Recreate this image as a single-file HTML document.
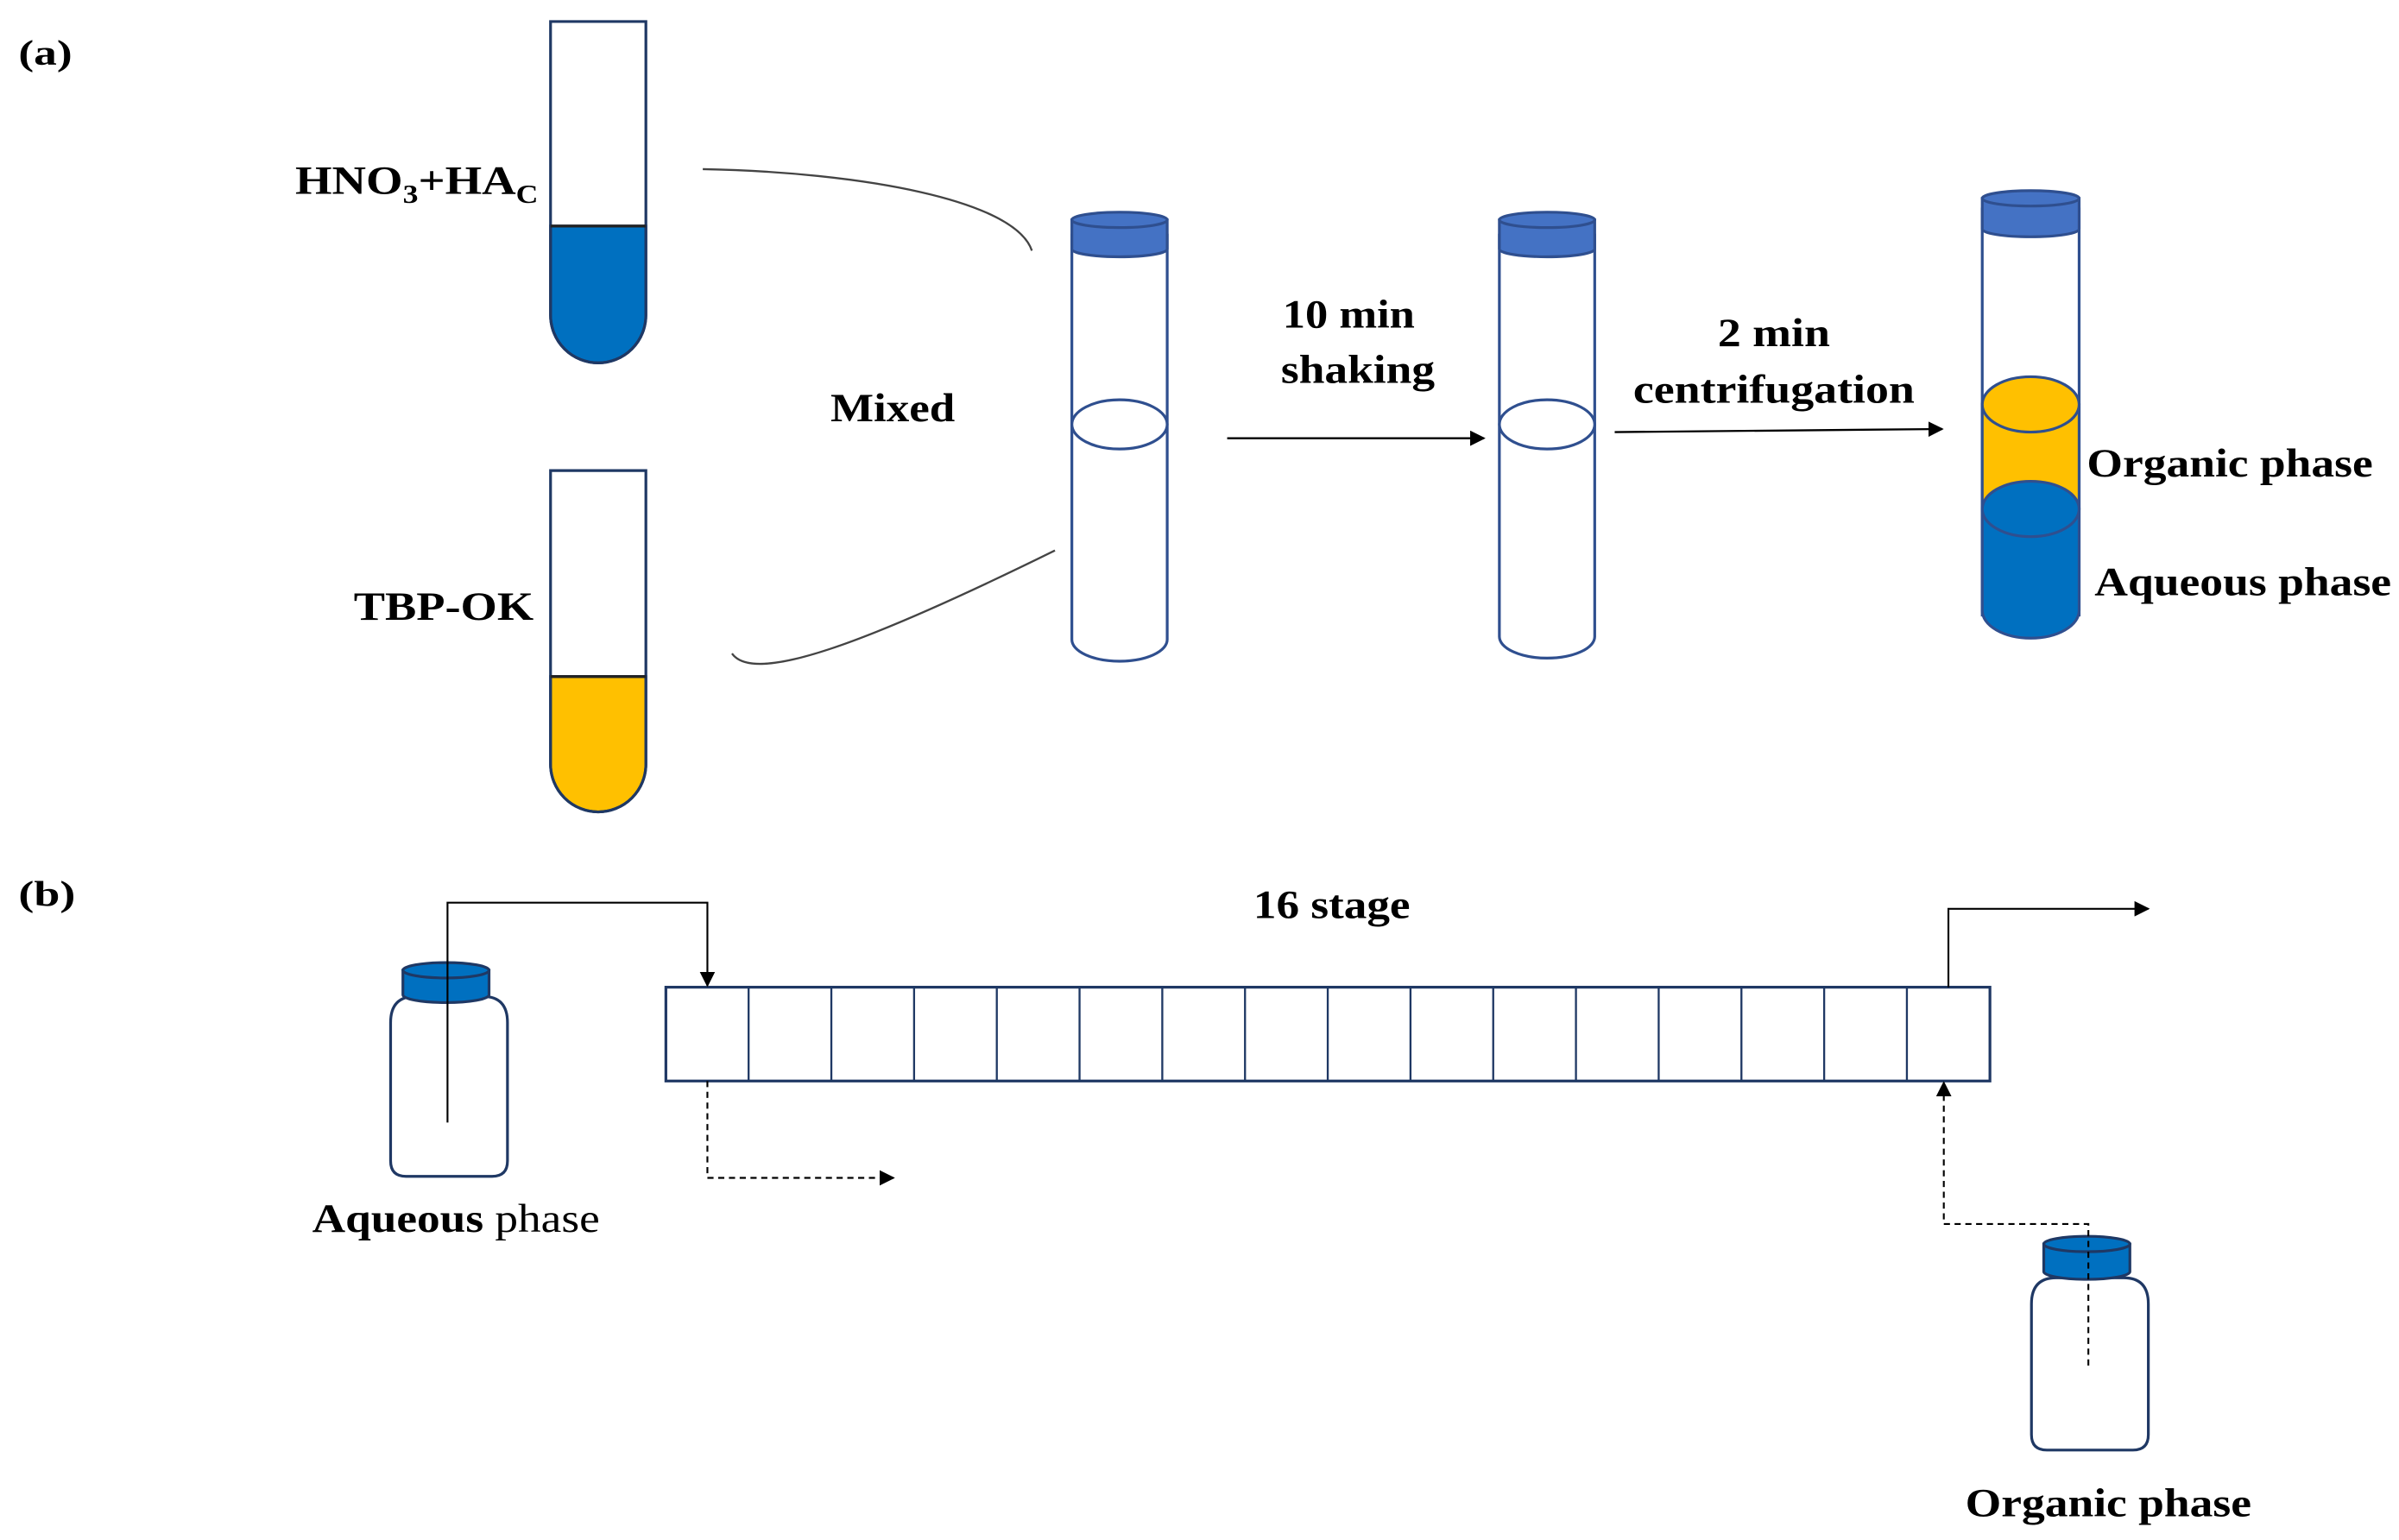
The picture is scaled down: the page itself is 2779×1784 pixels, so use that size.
<!DOCTYPE html>
<html><head><meta charset="utf-8"><style>html,body{margin:0;padding:0;background:#fff}svg{display:block}</style></head>
<body>
<svg width="2779" height="1784" viewBox="0 0 1560 1001.5" preserveAspectRatio="none" xmlns="http://www.w3.org/2000/svg" font-family="Liberation Serif, serif">
<defs>
<marker id="ar" markerWidth="10" markerHeight="10" refX="9" refY="5" orient="auto" markerUnits="userSpaceOnUse"><path d="M0,0 L10,5 L0,10 z" fill="#000"/></marker>
</defs>
<g font-weight="bold" font-size="26" fill="#000">
<text x="12" y="42" font-size="23" textLength="35" lengthAdjust="spacingAndGlyphs">(a)</text>
<text x="12" y="589" font-size="23" textLength="37" lengthAdjust="spacingAndGlyphs">(b)</text>
<text x="192" y="126" textLength="158" lengthAdjust="spacingAndGlyphs">HNO<tspan font-size="17" dy="6">3</tspan><tspan dy="-6">+HA</tspan><tspan font-size="17" dy="6">C</tspan></text>
<text x="230" y="403" textLength="117" lengthAdjust="spacingAndGlyphs">TBP-OK</text>
<text x="540" y="274" textLength="81" lengthAdjust="spacingAndGlyphs">Mixed</text>
<text x="834" y="213" textLength="86" lengthAdjust="spacingAndGlyphs">10 min</text>
<text x="833" y="249" textLength="100" lengthAdjust="spacingAndGlyphs">shaking</text>
<text x="1117" y="225" textLength="73" lengthAdjust="spacingAndGlyphs">2 min</text>
<text x="1062" y="262" textLength="183" lengthAdjust="spacingAndGlyphs">centrifugation</text>
<text x="1357" y="310" textLength="186" lengthAdjust="spacingAndGlyphs">Organic phase</text>
<text x="1362" y="387" textLength="193" lengthAdjust="spacingAndGlyphs">Aqueous phase</text>
<text x="815" y="597" textLength="102" lengthAdjust="spacingAndGlyphs">16 stage</text>
<text x="203" y="801" textLength="187" lengthAdjust="spacingAndGlyphs">Aqueous <tspan font-weight="normal">phase</tspan></text>
<text x="1278" y="986" textLength="186" lengthAdjust="spacingAndGlyphs">Organic phase</text>
</g>
<g stroke="#1F3864" stroke-width="1.8">
<path d="M358,147 L420,147 L420,205 A31,31 0 0 1 358,205 Z" fill="#0070C0"/>
<path d="M358,14 L420,14 L420,205 A31,31 0 0 1 358,205 Z" fill="none"/>
<line x1="358" y1="147" x2="420" y2="147" stroke="#222"/>
<path d="M358,440 L420,440 L420,497 A31,31 0 0 1 358,497 Z" fill="#FFC000"/>
<path d="M358,306 L420,306 L420,497 A31,31 0 0 1 358,497 Z" fill="none"/>
<line x1="358" y1="440" x2="420" y2="440" stroke="#222"/>
</g>
<g fill="none" stroke="#444" stroke-width="1.3">
<path d="M457,110 C560,112 660,130 671,163"/>
<path d="M476,425 C490,445 560,420 686,358"/>
</g>
<g stroke="#2F4F8F" stroke-width="1.8">
<path d="M697,152 L697,416 A31,14 0 0 0 759,416 L759,152" fill="#fff"/>
<path d="M697,143 L697,162 A31,5 0 0 0 759,162 L759,143 Z" fill="#4472C4"/>
<ellipse cx="728" cy="143" rx="31" ry="5" fill="#4472C4"/>
<ellipse cx="728" cy="276" rx="31" ry="16" fill="#fff"/>
<path d="M975,152 L975,414 A31,14 0 0 0 1037,414 L1037,152" fill="#fff"/>
<path d="M975,143 L975,162 A31,5 0 0 0 1037,162 L1037,143 Z" fill="#4472C4"/>
<ellipse cx="1006" cy="143" rx="31" ry="5" fill="#4472C4"/>
<ellipse cx="1006" cy="276" rx="31" ry="16" fill="#fff"/>
<path d="M1289,135 L1289,400 L1352,400 L1352,135" fill="#fff"/>
<path d="M1289,263 L1289,331 L1352,331 L1352,263 Z" fill="#FFC000"/>
<path d="M1289,331 L1289,397 A31.5,18 0 0 0 1352,397 L1352,331 Z" fill="#0070C0"/>
<ellipse cx="1320.5" cy="263" rx="31.5" ry="18" fill="#FFC000"/>
<ellipse cx="1320.5" cy="331" rx="31.5" ry="18" fill="#0070C0"/>
<path d="M1289,129 L1289,149 A31.5,5 0 0 0 1352,149 L1352,129 Z" fill="#4472C4"/>
<ellipse cx="1320.5" cy="129" rx="31.5" ry="5" fill="#4472C4"/>
</g>
<g stroke="#000" stroke-width="1.3" fill="none">
<line x1="798" y1="285" x2="965" y2="285" marker-end="url(#ar)"/>
<line x1="1050" y1="281" x2="1263" y2="279" marker-end="url(#ar)"/>
</g>
<g stroke="#1F3864" stroke-width="1.8" fill="#fff">
<rect x="433" y="642" width="861" height="61"/>
</g>
<g stroke="#1F3864" stroke-width="1.3">
<line x1="486.8" y1="642" x2="486.8" y2="703"/><line x1="540.6" y1="642" x2="540.6" y2="703"/><line x1="594.4" y1="642" x2="594.4" y2="703"/><line x1="648.2" y1="642" x2="648.2" y2="703"/><line x1="702" y1="642" x2="702" y2="703"/><line x1="755.8" y1="642" x2="755.8" y2="703"/><line x1="809.6" y1="642" x2="809.6" y2="703"/><line x1="863.4" y1="642" x2="863.4" y2="703"/><line x1="917.2" y1="642" x2="917.2" y2="703"/><line x1="971" y1="642" x2="971" y2="703"/><line x1="1024.8" y1="642" x2="1024.8" y2="703"/><line x1="1078.6" y1="642" x2="1078.6" y2="703"/><line x1="1132.4" y1="642" x2="1132.4" y2="703"/><line x1="1186.2" y1="642" x2="1186.2" y2="703"/><line x1="1240" y1="642" x2="1240" y2="703"/>
</g>
<g stroke="#1F3864" stroke-width="1.8">
<path d="M254,665 Q254,648 270,648 L314,648 Q330,648 330,665 L330,755 Q330,765 320,765 L264,765 Q254,765 254,755 Z" fill="#fff"/>
<path d="M262,631 L262,647 A28,5 0 0 0 318,647 L318,631 Z" fill="#0070C0"/>
<ellipse cx="290" cy="631" rx="28" ry="5" fill="#0070C0"/>
<path d="M1321,848 Q1321,831 1337,831 L1381,831 Q1397,831 1397,848 L1397,933 Q1397,943 1387,943 L1331,943 Q1321,943 1321,933 Z" fill="#fff"/>
<path d="M1329,809 L1329,827 A28,5 0 0 0 1385,827 L1385,809 Z" fill="#0070C0"/>
<ellipse cx="1357" cy="809" rx="28" ry="5" fill="#0070C0"/>
</g>
<g stroke="#000" stroke-width="1.2" fill="none">
<polyline points="291,730 291,587 460,587 460,641" marker-end="url(#ar)"/>
<polyline points="1267,642 1267,591 1397,591" marker-end="url(#ar)"/>
<polyline points="460,703 460,766 581,766" stroke-dasharray="4,3" marker-end="url(#ar)"/>
<polyline points="1358,888 1358,796 1264,796 1264,704" stroke-dasharray="4,3" marker-end="url(#ar)"/>
</g>
</svg>
</body></html>
